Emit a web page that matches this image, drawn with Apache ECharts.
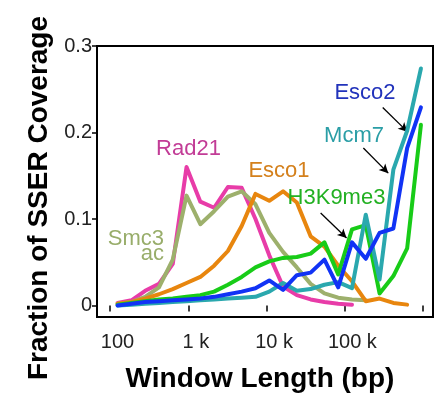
<!DOCTYPE html>
<html><head><meta charset="utf-8">
<script src="https://cdn.jsdelivr.net/npm/echarts@6/dist/echarts.min.js"></script>
<style>html,body{margin:0;padding:0;background:#fff}#c{width:434px;height:397px}</style>
</head><body><div id="c"></div>
<script>
// Window lengths (bp)
const windows = [125,188,281,422,633,949,1424,2136,3204,4806,7209,10813,16220,24330,36495,54743,82114,123171,184757,277135,415702,623553,935330];
// Fraction of SSER coverage per series
const rad21   = [0.003,0.006,0.017,0.025,0.048,0.160,0.120,0.113,0.137,0.136,0.100,0.058,0.022,0.012,0.007,0.004,0.002,0.001,null,null,null,null,null];
const smc3ac  = [0.002,0.004,0.010,0.021,0.053,0.127,0.094,0.109,0.126,0.132,0.117,0.084,0.062,0.044,0.025,0.014,0.009,0.007,0.006,null,null,null,null];
const esco1   = [0.002,0.004,0.008,0.013,0.019,0.026,0.033,0.046,0.063,0.092,0.129,0.121,0.132,0.119,0.080,0.068,0.046,0.028,0.005,0.008,0.003,0.001,null];
const h3k9me3 = [0.001,0.003,0.005,0.007,0.008,0.010,0.012,0.016,0.024,0.033,0.044,0.051,0.055,0.056,0.060,0.073,0.036,0.088,0.093,0.014,0.034,0.066,0.209];
const mcm7    = [0.000,0.001,0.002,0.003,0.004,0.005,0.006,0.007,0.008,0.009,0.010,0.016,0.026,0.017,0.019,0.024,0.027,0.020,0.105,0.030,0.157,0.202,0.274];
const esco2   = [0.000,0.002,0.004,0.005,0.006,0.007,0.008,0.010,0.013,0.016,0.020,0.029,0.018,0.035,0.038,0.053,0.021,0.073,0.054,0.084,0.089,0.182,0.229];
const seriesNames = ['Rad21','Smc3 ac','Esco1','H3K9me3','Mcm7','Esco2'];
const xTickValues = [100,1000,10000,100000,1000000];
const xTickLabels = ['100','1 k','10 k','100 k',''];
const yTickValues = [0,0.1,0.2,0.3];
const yTickLabels = ['0','0.1','0.2','0.3'];

const colors = ['#e83ca8','#9db06c','#e8860e','#18cc18','#2aa8ae','#1133f5'];
const textColors = ['#c23c96','#98ad6a','#d4801c','#22b022','#2a9ea6','#2233bb'];
const allData = [rad21, smc3ac, esco1, h3k9me3, mcm7, esco2];

function pairs(arr){
  const out = [];
  arr.forEach((v,i)=>{ if(v!==null) out.push([windows[i], v]); });
  return out;
}

const font = '"Liberation Sans", Arial, sans-serif';
const series = allData.map((arr, i) => ({
  name: seriesNames[i],
  type: 'line',
  data: pairs(arr),
  symbol: 'none',
  lineStyle: {color: colors[i], width: 4, join: 'round', cap: 'round'},
  itemStyle: {color: colors[i]},
  animation: false,
  z: 2 + i
}));

// arrows (annotation) in data coordinates
series.push({
  type: 'line', data: [], silent: true, animation: false, z: 20,
  markLine: {
    silent: true, animation: false,
    symbol: ['none','arrow'], symbolSize: [7, 9],
    label: {show: false},
    lineStyle: {color: '#000', width: 1.3, type: 'solid'},
    emphasis: {disabled: true},
    data: [
      [{coord: [304000, 0.229]}, {coord: [627000, 0.201]}],
      [{coord: [172000, 0.182]}, {coord: [358000, 0.153]}],
      [{coord: [49000, 0.107]}, {coord: [105000, 0.078]}]
    ]
  }
});

const labelFont = '22px ' + font;
function lbl(text, x, y, color, align){
  return {type:'text', z: 30, style:{text, x, y, fill: color, font: labelFont, textAlign: align || 'center', textVerticalAlign: 'bottom'}};
}

const chart = echarts.init(document.getElementById('c'), null, {renderer: 'canvas'});
chart.setOption({
  backgroundColor: '#fff',
  animation: false,
  grid: {left: 97, top: 46, width: 336, height: 271, show: true, borderColor: '#000', borderWidth: 2, backgroundColor: 'transparent'},
  xAxis: {
    type: 'log', logBase: 10, min: 68.2, max: 1334000,
    offset: 2,
    axisLine: {show: false},
    splitLine: {show: false},
    axisTick: {show: true, length: 6, lineStyle: {color: '#000', width: 1.5}, customValues: xTickValues},
    axisLabel: {
      customValues: xTickValues.slice(0, 4),
      formatter: v => { const i = xTickValues.findIndex(t => Math.abs(t - v) / t < 1e-6); return i >= 0 ? xTickLabels[i] : ''; },
      color: '#222', fontSize: 20, fontFamily: font, margin: 13, padding: [0,0,0,15]
    }
  },
  yAxis: {
    type: 'value', min: -0.0133, max: 0.3,
    axisLine: {show: false},
    splitLine: {show: false},
    axisTick: {show: true, length: 5, lineStyle: {color: '#000', width: 1.5}, customValues: yTickValues},
    axisLabel: {
      customValues: yTickValues,
      formatter: v => { const i = yTickValues.findIndex(t => Math.abs(t - v) < 1e-9); return i >= 0 ? yTickLabels[i] : ''; },
      color: '#222', fontSize: 20, fontFamily: font, margin: 5, padding: [2,0,0,0]
    }
  },
  series: series,
  graphic: [
    {type:'text', z: 30, style:{text:'Window Length (bp)', x: 260, y: 379, fill:'#000', font:'bold 28px ' + font, textAlign:'center', textVerticalAlign:'middle'}},
    {type:'text', z: 30, rotation: Math.PI/2, x: 39, y: 198, style:{text:'Fraction of SSER Coverage', x: 0, y: 0, fill:'#000', font:'bold 28px ' + font, textAlign:'center', textVerticalAlign:'middle'}},
    lbl('Rad21', 188.5, 160, textColors[0]),
    lbl('Smc3', 164, 250, textColors[1], 'right'),
    lbl('ac', 164, 265, textColors[1], 'right'),
    lbl('Esco1', 279, 182, textColors[2]),
    lbl('H3K9me3', 336.5, 209, textColors[3]),
    lbl('Mcm7', 354, 147, textColors[4]),
    lbl('Esco2', 365, 104, textColors[5])
  ]
});
</script></body></html>
